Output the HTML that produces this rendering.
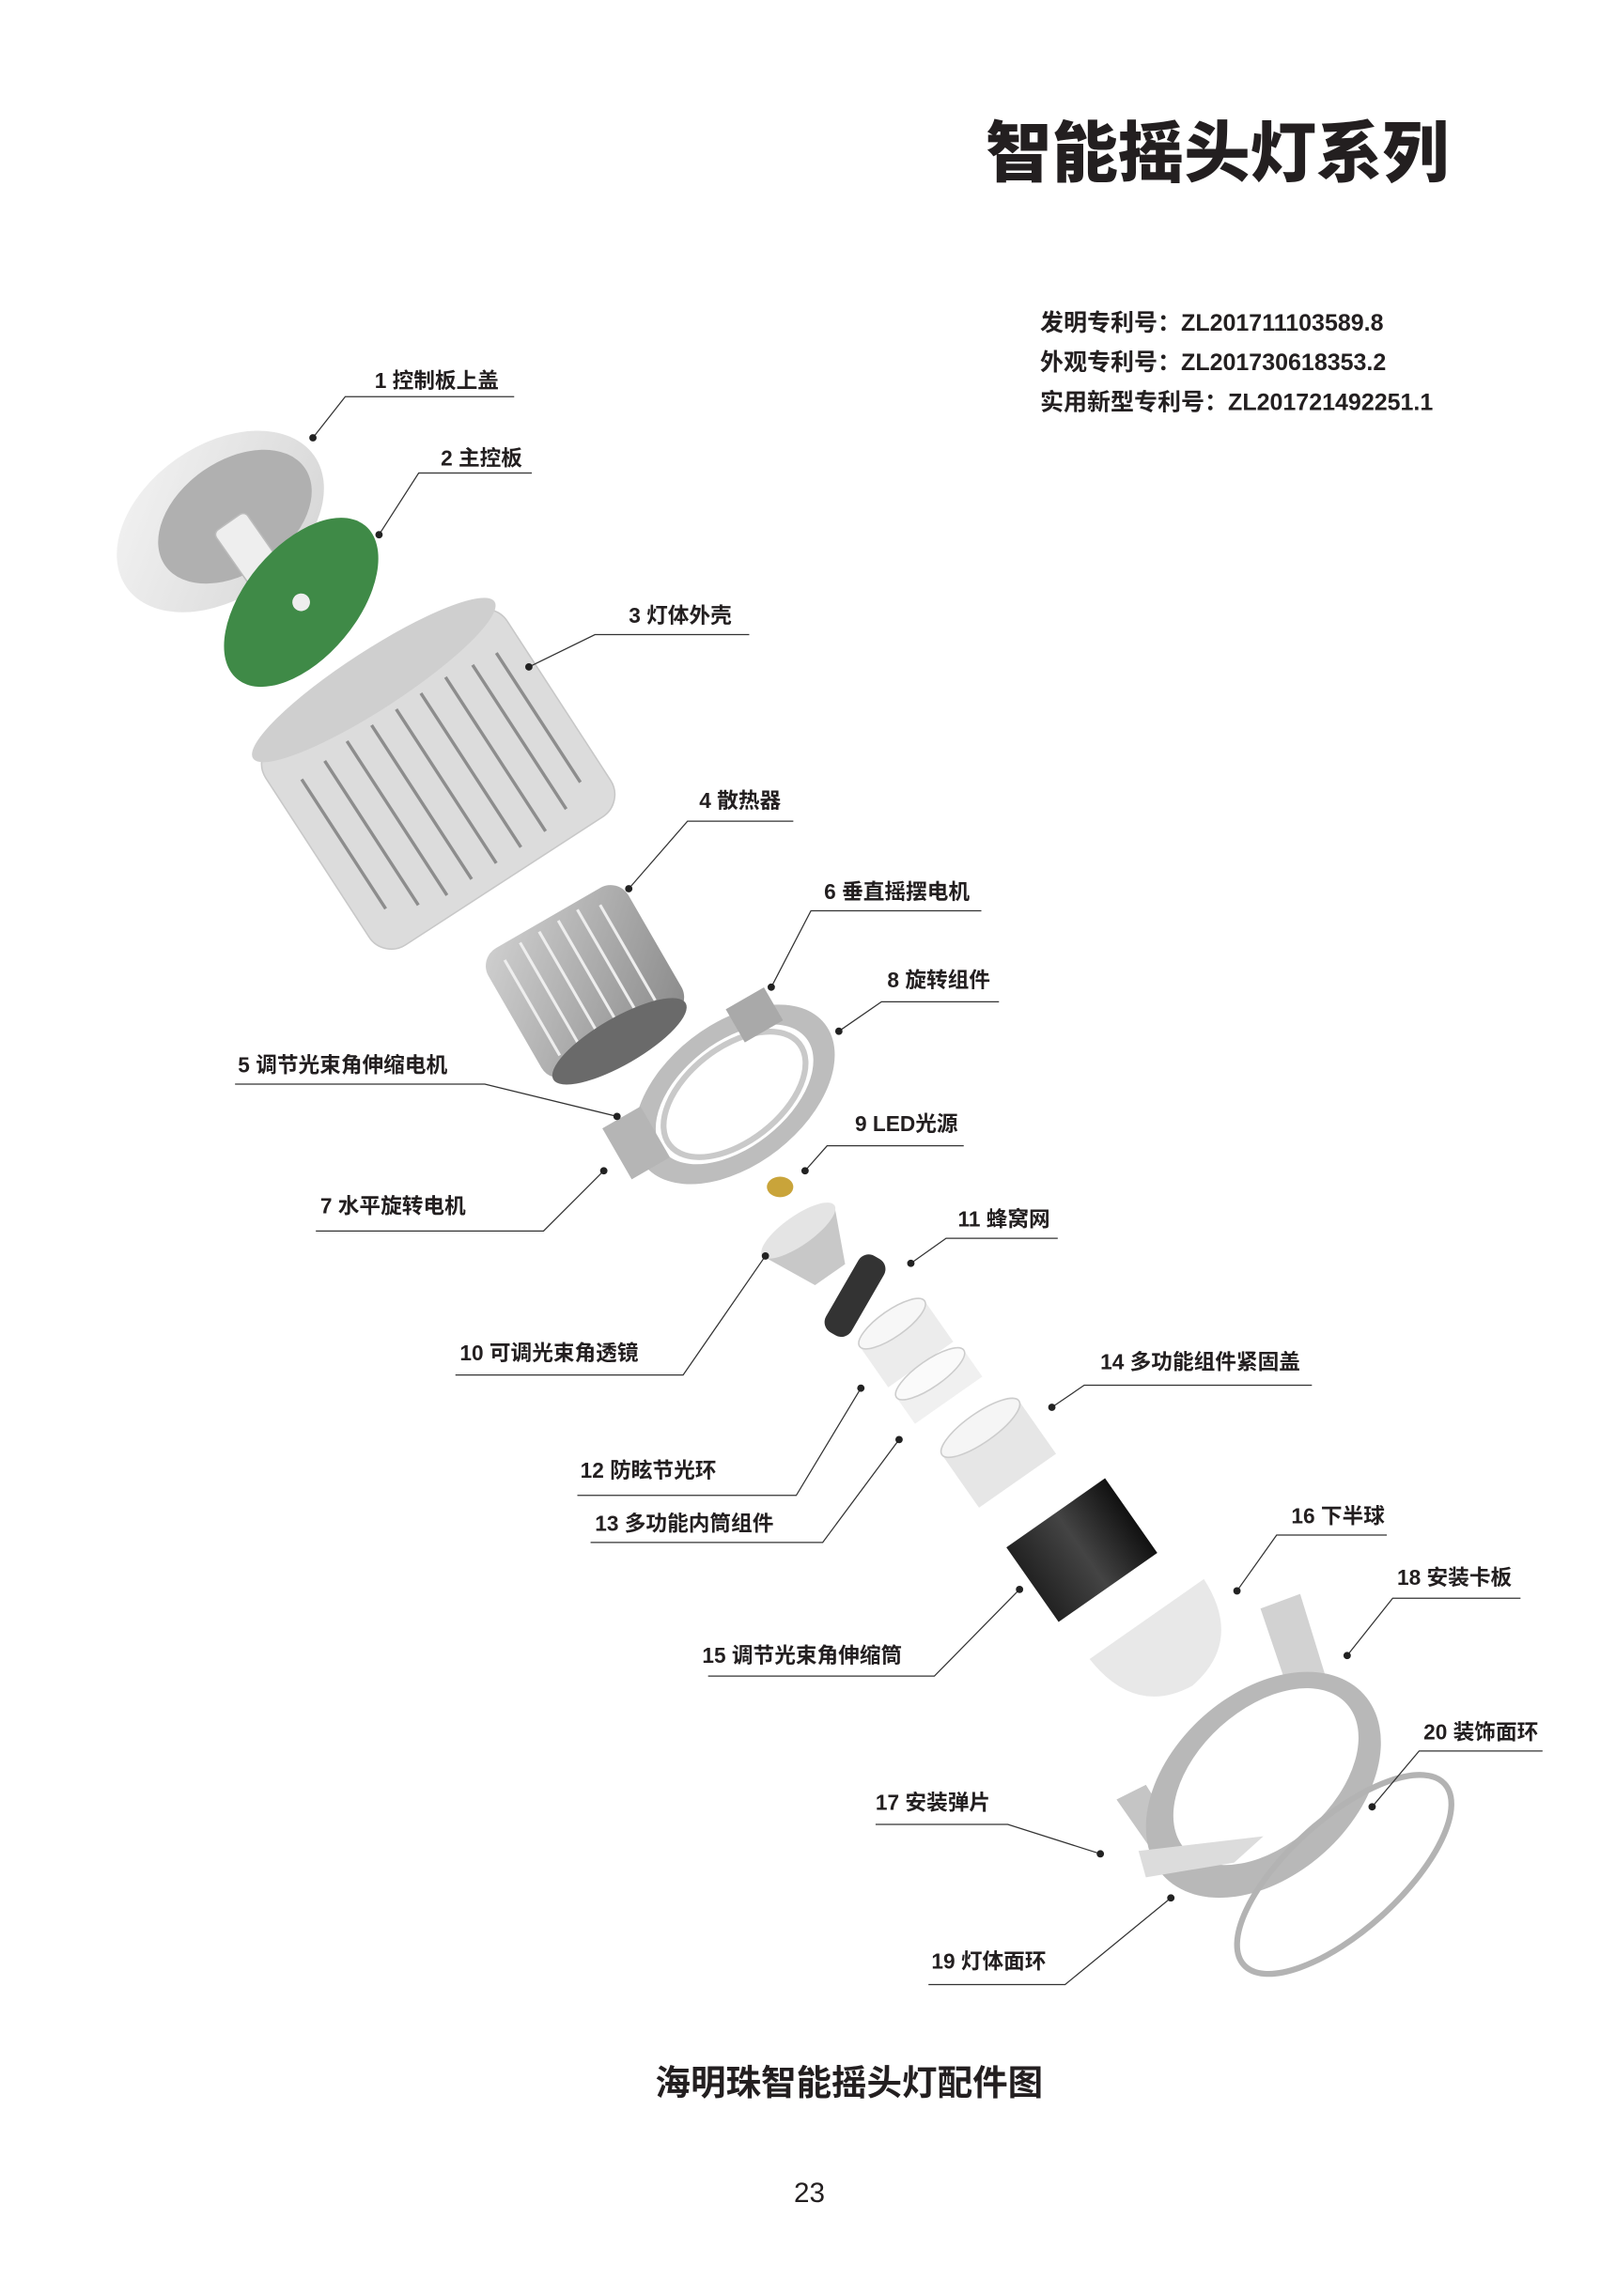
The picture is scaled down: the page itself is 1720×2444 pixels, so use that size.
<!DOCTYPE html>
<html><head><meta charset="utf-8"><style>
html,body{margin:0;padding:0;background:#fff;}
svg{display:block}
text{font-family:"Liberation Sans","Noto Sans CJK SC",sans-serif;font-weight:bold;fill:#231f20}
.l{font-size:14.5px}
.ln{stroke:#333;stroke-width:0.8;fill:none}
</style></head><body>
<svg width="1720" height="2444" viewBox="0 0 1100 1563" xmlns="http://www.w3.org/2000/svg">
<defs>
<linearGradient id="g1" x1="0" y1="0" x2="1" y2="1"><stop offset="0" stop-color="#f4f4f4"/><stop offset="1" stop-color="#d4d4d4"/></linearGradient>
<linearGradient id="gd" x1="0" y1="0" x2="1" y2="0"><stop offset="0" stop-color="#222"/><stop offset="0.5" stop-color="#444"/><stop offset="1" stop-color="#111"/></linearGradient>
<linearGradient id="gs" x1="0" y1="0" x2="1" y2="1"><stop offset="0" stop-color="#d0d0d0"/><stop offset="1" stop-color="#8a8a8a"/></linearGradient>
</defs>
<text x="671" y="120" style="font-size:45px;font-family:'Noto Sans CJK SC',sans-serif;font-weight:900">智能摇头灯系列</text>
<text x="708" y="225" style="font-size:16px">发明专利号：ZL201711103589.8</text>
<text x="708" y="252" style="font-size:16px">外观专利号：ZL201730618353.2</text>
<text x="708" y="279" style="font-size:16px">实用新型专利号：ZL201721492251.1</text>

<!-- parts -->
<g transform="rotate(-35 150 355)"><ellipse cx="150" cy="355" rx="78" ry="52" fill="url(#g1)"/><ellipse cx="160" cy="358" rx="58" ry="38" fill="#b0b0b0"/></g>
<rect x="160" y="350" width="26" height="62" rx="4" fill="#eee" stroke="#bbb" transform="rotate(-35 173 380)"/>
<g transform="rotate(-50 205 410)"><ellipse cx="205" cy="410" rx="68" ry="38" fill="#3f8a47"/><circle cx="205" cy="410" r="6" fill="#eee"/></g>
<g transform="rotate(-33 298 530)"><rect x="200" y="448" width="196" height="165" rx="18" fill="#dcdcdc" stroke="#c8c8c8"/><ellipse cx="298" cy="450" rx="98" ry="20" fill="#cfcfcf"/>
<g stroke="#8d8d8d" stroke-width="2.2"><line x1="220" y1="480" x2="220" y2="585"/><line x1="240" y1="478" x2="240" y2="595"/><line x1="260" y1="475" x2="260" y2="600"/><line x1="280" y1="475" x2="280" y2="600"/><line x1="300" y1="475" x2="300" y2="600"/><line x1="320" y1="475" x2="320" y2="600"/><line x1="340" y1="475" x2="340" y2="600"/><line x1="360" y1="478" x2="360" y2="595"/><line x1="378" y1="480" x2="378" y2="585"/></g></g>
<g transform="rotate(-30 405 670)"><rect x="345" y="615" width="110" height="100" rx="14" fill="url(#gs)"/><g stroke="#eee" stroke-width="2"><line x1="360" y1="625" x2="360" y2="700"/><line x1="375" y1="620" x2="375" y2="705"/><line x1="390" y1="620" x2="390" y2="705"/><line x1="405" y1="620" x2="405" y2="705"/><line x1="420" y1="620" x2="420" y2="705"/><line x1="435" y1="625" x2="435" y2="700"/></g><ellipse cx="400" cy="712" rx="52" ry="16" fill="#6a6a6a"/></g>
<g transform="rotate(-38 500 745)"><ellipse cx="500" cy="745" rx="78" ry="48" fill="#bdbdbd"/><ellipse cx="500" cy="745" rx="62" ry="36" fill="#fff"/><ellipse cx="500" cy="745" rx="56" ry="32" fill="none" stroke="#c9c9c9" stroke-width="4"/></g>
<rect x="418" y="758" width="30" height="40" fill="#b5b5b5" transform="rotate(-30 433 778)"/>
<rect x="498" y="678" width="30" height="26" fill="#a9a9a9" transform="rotate(-30 513 690)"/>
<ellipse cx="531" cy="808" rx="9" ry="7" fill="#c9a43a"/>
<g transform="rotate(-35 552 850)"><path d="M522 835 L582 835 L565 872 L540 872 Z" fill="#c8c8c8"/><ellipse cx="552" cy="835" rx="30" ry="10" fill="#e4e4e4"/></g>
<g transform="rotate(-60 582 882)"><rect x="552" y="872" width="60" height="20" rx="8" fill="#333"/></g>
<g transform="rotate(-35 617 915)"><rect x="590" y="898" width="54" height="34" fill="#ececec"/><ellipse cx="617" cy="898" rx="27" ry="9" fill="#f7f7f7" stroke="#ccc"/></g>
<g transform="rotate(-35 640 945)"><rect x="612" y="933" width="56" height="22" fill="#f0f0f0"/><ellipse cx="640" cy="933" rx="28" ry="9" fill="#fafafa" stroke="#ccc"/></g>
<g transform="rotate(-35 680 990)"><rect x="648" y="968" width="64" height="44" fill="#e6e6e6"/><ellipse cx="680" cy="968" rx="32" ry="10" fill="#f5f5f5" stroke="#ccc"/></g>
<g transform="rotate(-35 735 1055)"><rect x="695" y="1025" width="82" height="62" fill="url(#gd)"/></g>
<g transform="rotate(-35 790 1120)"><path d="M745 1100 L840 1100 Q838 1150 792 1155 Q748 1150 745 1100 Z" fill="#e8e8e8"/></g>
<path d="M858 1095 L885 1085 L905 1150 L880 1160 Z" fill="#d2d2d2"/>
<path d="M760 1225 L780 1215 L805 1255 L790 1268 Z" fill="#c5c5c5"/>
<g transform="rotate(-42 860 1215)"><ellipse cx="860" cy="1215" rx="92" ry="62" fill="#b8b8b8"/><ellipse cx="865" cy="1212" rx="74" ry="46" fill="#fff"/></g>
<path d="M775 1260 L860 1250 L840 1268 L780 1278 Z" fill="#dcdcdc"/>
<g transform="rotate(-42 915 1276)"><ellipse cx="915" cy="1276" rx="92" ry="38" fill="none" stroke="#b3b3b3" stroke-width="4"/></g>

<!-- leaders -->
<g class="ln">
<polyline points="350,270 235,270 213,298"/><polyline points="362,322 285,322 258,364"/>
<polyline points="510,432 405,432 360,454"/><polyline points="540,559 468,559 428,605"/>
<polyline points="668,620 552,620 525,672"/><polyline points="680,682 600,682 571,702"/>
<polyline points="160,738 330,738 420,760"/><polyline points="656,780 563,780 548,797"/>
<polyline points="215,838 370,838 411,797"/><polyline points="720,843 644,843 620,860"/>
<polyline points="310,936 465,936 521,855"/><polyline points="893,943 738,943 716,958"/>
<polyline points="393,1018 542,1018 586,945"/><polyline points="402,1050 560,1050 612,980"/>
<polyline points="944,1045 869,1045 842,1083"/><polyline points="1035,1088 948,1088 917,1127"/>
<polyline points="482,1141 636,1141 694,1082"/><polyline points="1050,1192 966,1192 934,1230"/>
<polyline points="596,1242 686,1242 749,1262"/><polyline points="632,1351 725,1351 797,1292"/>
</g>
<g fill="#222">
<circle cx="213" cy="298" r="2.5"/><circle cx="258" cy="364" r="2.5"/><circle cx="360" cy="454" r="2.5"/><circle cx="428" cy="605" r="2.5"/><circle cx="525" cy="672" r="2.5"/><circle cx="571" cy="702" r="2.5"/><circle cx="420" cy="760" r="2.5"/><circle cx="548" cy="797" r="2.5"/><circle cx="411" cy="797" r="2.5"/><circle cx="620" cy="860" r="2.5"/><circle cx="521" cy="855" r="2.5"/><circle cx="716" cy="958" r="2.5"/><circle cx="586" cy="945" r="2.5"/><circle cx="612" cy="980" r="2.5"/><circle cx="842" cy="1083" r="2.5"/><circle cx="917" cy="1127" r="2.5"/><circle cx="694" cy="1082" r="2.5"/><circle cx="934" cy="1230" r="2.5"/><circle cx="749" cy="1262" r="2.5"/><circle cx="797" cy="1292" r="2.5"/>
</g>
<g class="l">
<text x="255" y="264" class="l">1 控制板上盖</text>
<text x="300" y="317" class="l">2 主控板</text>
<text x="428" y="424" class="l">3 灯体外壳</text>
<text x="476" y="550" class="l">4 散热器</text>
<text x="561" y="612" class="l">6 垂直摇摆电机</text>
<text x="604" y="672" class="l">8 旋转组件</text>
<text x="162" y="730" class="l">5 调节光束角伸缩电机</text>
<text x="582" y="770" class="l">9 LED光源</text>
<text x="218" y="826" class="l">7  水平旋转电机</text>
<text x="652" y="835" class="l">11 蜂窝网</text>
<text x="313" y="926" class="l">10 可调光束角透镜</text>
<text x="749" y="932" class="l">14 多功能组件紧固盖</text>
<text x="395" y="1006" class="l">12 防眩节光环</text>
<text x="405" y="1042" class="l">13 多功能内筒组件</text>
<text x="879" y="1037" class="l">16 下半球</text>
<text x="951" y="1079" class="l">18 安装卡板</text>
<text x="478" y="1132" class="l">15 调节光束角伸缩筒</text>
<text x="969" y="1184" class="l">20 装饰面环</text>
<text x="596" y="1232" class="l">17 安装弹片</text>
<text x="634" y="1340" class="l">19 灯体面环</text>
</g>
<text x="578" y="1426" text-anchor="middle" style="font-size:24px">海明珠智能摇头灯配件图</text>
<text x="551" y="1499" text-anchor="middle" style="font-size:19px;font-weight:normal">23</text>
</svg>
</body></html>
